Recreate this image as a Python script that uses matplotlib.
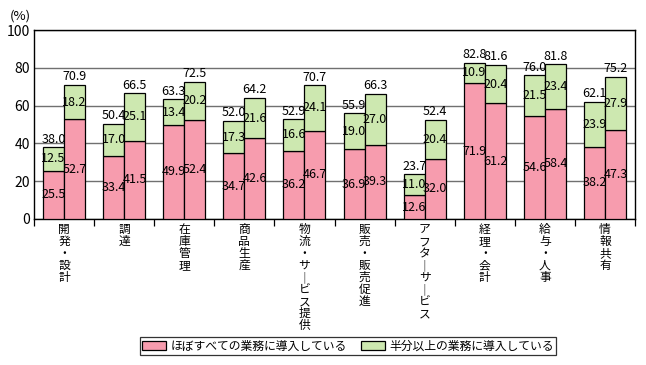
import matplotlib
matplotlib.use("Agg")
import matplotlib.pyplot as plt
import matplotlib.transforms as mtransforms
import numpy as np
from matplotlib.patches import Patch

plt.rcParams['font.family'] = ['Noto Sans CJK JP', 'DejaVu Sans']

categories = ["開発・設計", "調達", "在庫管理", "商品生産", "物流・サービス提供",
              "販売・販売促進", "アフターサービス", "経理・会計", "給与・人事", "情報共有"]
# bar 1 (left) and bar 2 (right) of each group
almost_all_1 = [25.5, 33.4, 49.9, 34.7, 36.2, 36.9, 12.6, 71.9, 54.6, 38.2]
half_more_1 = [12.5, 17.0, 13.4, 17.3, 16.6, 19.0, 11.0, 10.9, 21.5, 23.9]
total_1 = [38.0, 50.4, 63.3, 52.0, 52.9, 55.9, 23.7, 82.8, 76.0, 62.1]
almost_all_2 = [52.7, 41.5, 52.4, 42.6, 46.7, 39.3, 32.0, 61.2, 58.4, 47.3]
half_more_2 = [18.2, 25.1, 20.2, 21.6, 24.1, 27.0, 20.4, 20.4, 23.4, 27.9]
total_2 = [70.9, 66.5, 72.5, 64.2, 70.7, 66.3, 52.4, 81.6, 81.8, 75.2]
legend_labels = ["ほぼすべての業務に導入している", "半分以上の業務に導入している"]
yticks = [0, 20, 40, 60, 80, 100]

pink = "#F79CAE"
green = "#CDE8B0"

fig = plt.figure(figsize=(6.46, 3.65), dpi=100)
ax = fig.add_axes([34/646, 1-219/365, (635-34)/646, (219-30)/365])

x = np.arange(len(categories))
w = 0.35
fs = 9
for off, a, h, t in [(-w/2, almost_all_1, half_more_1, total_1),
                     (w/2, almost_all_2, half_more_2, total_2)]:
    xs = x + off
    ax.bar(xs, a, w, color=pink, edgecolor="black", linewidth=0.9, zorder=3)
    ax.bar(xs, h, w, bottom=a, color=green, edgecolor="black", linewidth=0.9, zorder=3)
    for xi, ai, hi, ti in zip(xs, a, h, t):
        ax.text(xi, ai/2, f"{ai:.1f}", ha="center", va="center", fontsize=fs, zorder=5)
        ax.text(xi, ai + hi/2, f"{hi:.1f}", ha="center", va="center", fontsize=fs, zorder=5)
        ax.text(xi, ai + hi + 0.8, f"{ti:.1f}", ha="center", va="bottom", fontsize=fs, zorder=5)

ax.set_xlim(-0.5, len(categories) - 0.5)
ax.set_ylim(0, 100)
ax.set_yticks(yticks)
ax.set_yticklabels([str(v) for v in yticks], fontsize=10)
ax.tick_params(axis="y", length=0, pad=3)
ax.yaxis.grid(True, color="#707070", linewidth=1, zorder=0)
ax.set_axisbelow(True)

ax.set_xticks(np.arange(len(categories) + 1) - 0.5)
ax.set_xticklabels([])
ax.tick_params(axis="x", direction="out", length=5, width=0.9, color="black")

for s in ax.spines.values():
    s.set_color("black")
    s.set_linewidth(1)

# vertical (stacked) category labels, one character per line
for xi, c in zip(x, categories):
    for k, ch in enumerate(c):
        disp = "｜" if ch == "ー" else ch
        tr = ax.get_xaxis_transform() + mtransforms.ScaledTranslation(
            0, -(4 + 12 * k) / 100, fig.dpi_scale_trans)
        ax.text(xi, 0, disp, ha="center", va="top", fontsize=8.5, transform=tr)

fig.text(10/646, 1-16/365, "(%)", fontsize=9.5, ha="left", va="center")

handles = [Patch(facecolor=pink, edgecolor="black", linewidth=0.9),
           Patch(facecolor=green, edgecolor="black", linewidth=0.9)]
leg = fig.legend(handles, legend_labels, loc="center", ncol=2,
                 bbox_to_anchor=(348/646, 1-346/365), fontsize=8.5,
                 frameon=True, fancybox=False, edgecolor="black",
                 handlelength=2.0, handleheight=0.9, handletextpad=0.4,
                 columnspacing=1.2, borderpad=0.2)
leg.get_frame().set_linewidth(0.9)

fig.savefig("out.png", dpi=100)
